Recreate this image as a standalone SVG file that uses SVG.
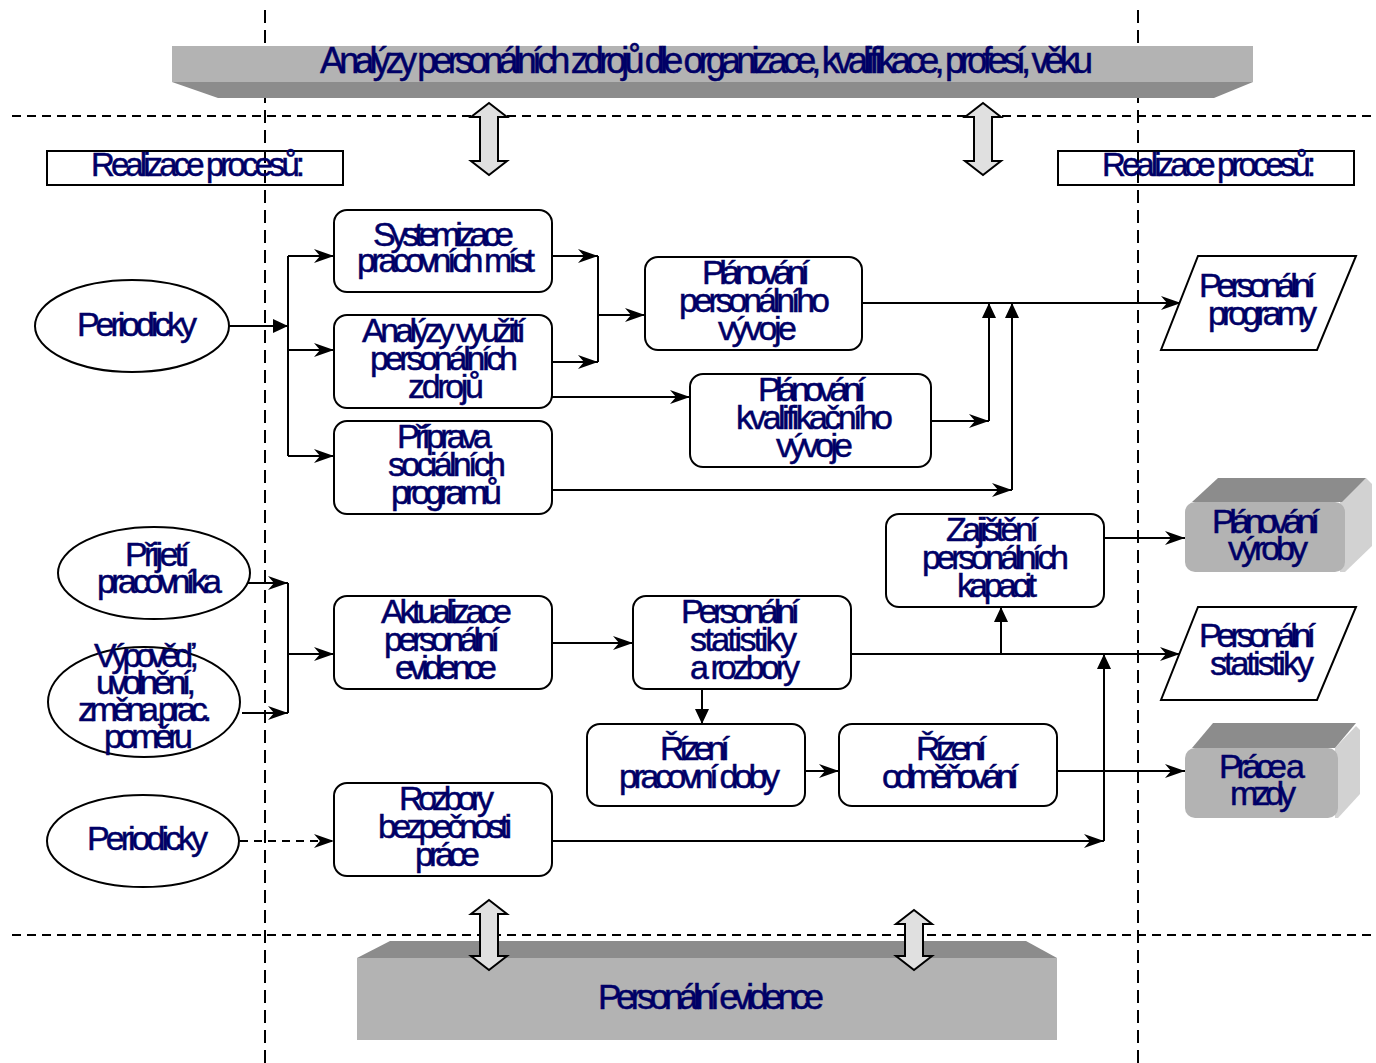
<svg xmlns="http://www.w3.org/2000/svg" width="1376" height="1063" viewBox="0 0 1376 1063">
<style>
.t{font-family:"Liberation Sans",Arial,sans-serif;font-size:34px;fill:#000066;stroke:#000066;stroke-width:0.5px;}
.box{fill:#fff;stroke:#000;stroke-width:2;}
.ell{fill:#fff;stroke:#000;stroke-width:2;}
.c{fill:none;stroke:#000;stroke-width:2;}
.s{marker-end:url(#stealth);}
.f{marker-end:url(#tri);}
.dd{fill:#e0e0e0;stroke:#000;stroke-width:2;stroke-linejoin:miter;}
.grid{stroke:#000;stroke-width:2;fill:none;}
</style>
<defs>
<marker id="stealth" markerUnits="userSpaceOnUse" markerWidth="20" markerHeight="14" refX="20" refY="7" orient="auto" overflow="visible">
<path d="M0,0 L20,7 L0,14 L6,7 Z" fill="#000"/>
</marker>
<marker id="tri" markerUnits="userSpaceOnUse" markerWidth="15" markerHeight="14" refX="15" refY="7" orient="auto" overflow="visible">
<path d="M0,0 L15,7 L0,14 Z" fill="#000"/>
</marker>
</defs>
<rect width="1376" height="1063" fill="#fff"/>
<g id="guides">
<line class="grid" x1="265" y1="10" x2="265" y2="1063" stroke-dasharray="13 7"/>
<line class="grid" x1="1138" y1="10" x2="1138" y2="1063" stroke-dasharray="13 7"/>
<line class="grid" x1="12" y1="116" x2="1376" y2="116" stroke-dasharray="9 6"/>
<line class="grid" x1="12" y1="935" x2="1376" y2="935" stroke-dasharray="9 6"/>
</g>
<g id="banner-top">
<polygon points="172,82 1253,82 1214,98 218,98" fill="#8c8c8c"/>
<rect x="172" y="46" width="1081" height="36" fill="#b3b3b3"/>
<text class="t" style="font-size:36px" x="320" y="73" textLength="773" lengthAdjust="spacing">Analýzy personálních zdrojů dle organizace, kvalifikace, profesí, věku</text>
</g>
<g id="banner-bottom">
<polygon points="390,941 1026,941 1057,958 357,958" fill="#8c8c8c"/>
<rect x="357" y="958" width="700" height="82" fill="#b3b3b3"/>
<text class="t" style="font-size:35px" x="598" y="1009" textLength="226" lengthAdjust="spacing">Personální evidence</text>
</g>
<g id="realizace-left">
<rect x="47" y="151" width="296" height="34" fill="none" stroke="#000" stroke-width="2"/>
<text class="t" style="font-size:33px" x="91" y="176" textLength="214" lengthAdjust="spacing">Realizace procesů:</text>
</g>
<g id="realizace-right">
<rect x="1058" y="151" width="296" height="34" fill="none" stroke="#000" stroke-width="2"/>
<text class="t" style="font-size:33px" x="1102" y="176" textLength="214" lengthAdjust="spacing">Realizace procesů:</text>
</g>
<g id="exchange-arrows">
<polygon class="dd" points="489,103 507,117 498,117 498,161 507,161 489,175 471,161 480,161 480,117 471,117"/>
<polygon class="dd" points="983,103 1001,117 992,117 992,161 1001,161 983,175 965,161 974,161 974,117 965,117"/>
<polygon class="dd" points="489,900 507,914 498,914 498,956 507,956 489,970 471,956 480,956 480,914 471,914"/>
<polygon class="dd" points="914,910 932,924 923,924 923,956 932,956 914,970 896,956 905,956 905,924 896,924"/>
</g>
<g id="connectors">
<path class="c f" d="M229,326 H288"/>
<path class="c" d="M288,256 V456"/>
<path class="c s" d="M288,256 H334"/>
<path class="c s" d="M288,350 H334"/>
<path class="c s" d="M288,456 H334"/>
<path class="c s" d="M552,256 H598"/>
<path class="c s" d="M552,362 H598"/>
<path class="c" d="M598,256 V362"/>
<path class="c s" d="M598,315 H645"/>
<path class="c s" d="M552,397 H690"/>
<path class="c s" d="M552,490 H1012"/>
<path class="c f" d="M1012,490 V303"/>
<path class="c s" d="M931,421 H989"/>
<path class="c f" d="M989,421 V303"/>
<path class="c s" d="M862,303 H1181"/>
<path class="c s" d="M1104,538 H1185"/>
<path class="c s" d="M232,583 H288"/>
<path class="c s" d="M242,713 H288"/>
<path class="c" d="M288,583 V713"/>
<path class="c s" d="M288,654 H334"/>
<path class="c s" d="M552,643 H633"/>
<path class="c s" d="M851,654 H1180"/>
<path class="c f" d="M1001,654 V607"/>
<path class="c f" d="M702,689 V724"/>
<path class="c s" d="M805,771 H839"/>
<path class="c s" d="M1057,771 H1185"/>
<path class="c s" d="M240,841 H334" stroke-dasharray="8 6"/>
<path class="c s" d="M552,841 H1104"/>
<path class="c f" d="M1104,841 V654"/>
</g>
<g id="periodicky-1">
<ellipse class="ell" cx="132" cy="326" rx="97" ry="46"/>
<text class="t" x="77" y="336" textLength="120" lengthAdjust="spacing">Periodicky</text>
</g>
<g id="systemizace">
<rect class="box" x="334" y="210" width="218" height="82" rx="13"/>
<text class="t" x="373" y="246" textLength="141" lengthAdjust="spacing">Systemizace</text>
<text class="t" x="357" y="272" textLength="178" lengthAdjust="spacing">pracovních míst</text>
</g>
<g id="analyzy-vyuziti">
<rect class="box" x="334" y="315" width="218" height="93" rx="13"/>
<text class="t" x="362" y="342" textLength="164" lengthAdjust="spacing">Analýzy využití</text>
<text class="t" x="370" y="370" textLength="148" lengthAdjust="spacing">personálních</text>
<text class="t" x="408" y="398" textLength="76" lengthAdjust="spacing">zdrojů</text>
</g>
<g id="priprava">
<rect class="box" x="334" y="421" width="218" height="93" rx="13"/>
<text class="t" x="397" y="448" textLength="95" lengthAdjust="spacing">Příprava</text>
<text class="t" x="388" y="476" textLength="118" lengthAdjust="spacing">sociálních</text>
<text class="t" x="391" y="504" textLength="111" lengthAdjust="spacing">programů</text>
</g>
<g id="planovani-personalniho">
<rect class="box" x="645" y="257" width="217" height="93" rx="13"/>
<text class="t" x="702" y="284" textLength="108" lengthAdjust="spacing">Plánování</text>
<text class="t" x="679" y="312" textLength="151" lengthAdjust="spacing">personálního</text>
<text class="t" x="718" y="340" textLength="79" lengthAdjust="spacing">vývoje</text>
</g>
<g id="planovani-kvalifikacniho">
<rect class="box" x="690" y="374" width="241" height="93" rx="13"/>
<text class="t" x="758" y="401" textLength="108" lengthAdjust="spacing">Plánování</text>
<text class="t" x="736" y="429" textLength="157" lengthAdjust="spacing">kvalifikačního</text>
<text class="t" x="776" y="457" textLength="77" lengthAdjust="spacing">vývoje</text>
</g>
<g id="personalni-programy">
<polygon class="box" points="1198,256 1356,256 1317,350 1161,350"/>
<text class="t" x="1199" y="297" textLength="117" lengthAdjust="spacing">Personální</text>
<text class="t" x="1208" y="325" textLength="109" lengthAdjust="spacing">programy</text>
</g>
<g id="planovani-vyroby">
<polygon points="1340,502 1366,478 1372,484 1372,546 1345,572 1340,572" fill="#d2d2d2"/>
<polygon points="1192,502 1218,478 1366,478 1342,502" fill="#8c8c8c"/>
<rect x="1185" y="502" width="160" height="70" rx="10" fill="#b3b3b3"/>
<text class="t" x="1212" y="533" textLength="108" lengthAdjust="spacing">Plánování</text>
<text class="t" x="1228" y="560" textLength="80" lengthAdjust="spacing">výroby</text>
</g>
<g id="zajisteni">
<rect class="box" x="886" y="514" width="218" height="93" rx="13"/>
<text class="t" x="946" y="541" textLength="93" lengthAdjust="spacing">Zajištění</text>
<text class="t" x="922" y="569" textLength="147" lengthAdjust="spacing">personálních</text>
<text class="t" x="957" y="597" textLength="80" lengthAdjust="spacing">kapacit</text>
</g>
<g id="prijeti">
<ellipse class="ell" cx="154" cy="573" rx="96" ry="46"/>
<text class="t" x="125" y="566" textLength="65" lengthAdjust="spacing">Přijetí</text>
<text class="t" x="97" y="593" textLength="125" lengthAdjust="spacing">pracovníka</text>
</g>
<g id="vypoved">
<ellipse class="ell" cx="144" cy="702" rx="96" ry="55"/>
<text class="t" x="94" y="667" textLength="105" lengthAdjust="spacing">Výpověď,</text>
<text class="t" x="96" y="694" textLength="100" lengthAdjust="spacing">uvolnění,</text>
<text class="t" x="78" y="721" textLength="134" lengthAdjust="spacing">změna prac.</text>
<text class="t" x="104" y="748" textLength="89" lengthAdjust="spacing">poměru</text>
</g>
<g id="aktualizace">
<rect class="box" x="334" y="596" width="218" height="93" rx="13"/>
<text class="t" x="381" y="623" textLength="131" lengthAdjust="spacing">Aktualizace</text>
<text class="t" x="384" y="651" textLength="116" lengthAdjust="spacing">personální</text>
<text class="t" x="395" y="679" textLength="102" lengthAdjust="spacing">evidence</text>
</g>
<g id="personalni-statistiky-rozbory">
<rect class="box" x="633" y="596" width="218" height="93" rx="13"/>
<text class="t" x="681" y="623" textLength="119" lengthAdjust="spacing">Personální</text>
<text class="t" x="690" y="651" textLength="107" lengthAdjust="spacing">statistiky</text>
<text class="t" x="690" y="679" textLength="110" lengthAdjust="spacing">a rozbory</text>
</g>
<g id="personalni-statistiky-out">
<polygon class="box" points="1198,607 1356,607 1317,700 1161,700"/>
<text class="t" x="1199" y="647" textLength="117" lengthAdjust="spacing">Personální</text>
<text class="t" x="1210" y="675" textLength="104" lengthAdjust="spacing">statistiky</text>
</g>
<g id="rizeni-prac-doby">
<rect class="box" x="587" y="724" width="218" height="82" rx="13"/>
<text class="t" x="660" y="760" textLength="70" lengthAdjust="spacing">Řízení</text>
<text class="t" x="619" y="788" textLength="161" lengthAdjust="spacing">pracovní doby</text>
</g>
<g id="rizeni-odmenovani">
<rect class="box" x="839" y="724" width="218" height="82" rx="13"/>
<text class="t" x="916" y="760" textLength="71" lengthAdjust="spacing">Řízení</text>
<text class="t" x="882" y="788" textLength="137" lengthAdjust="spacing">odměňování</text>
</g>
<g id="prace-a-mzdy">
<polygon points="1335,748 1356,726 1360,730 1360,794 1338,818 1335,818" fill="#d2d2d2"/>
<polygon points="1192,748 1213,723 1356,723 1335,748" fill="#8c8c8c"/>
<rect x="1185" y="748" width="153" height="70" rx="10" fill="#b3b3b3"/>
<text class="t" x="1219" y="778" textLength="86" lengthAdjust="spacing">Práce a</text>
<text class="t" x="1230" y="805" textLength="66" lengthAdjust="spacing">mzdy</text>
</g>
<g id="periodicky-2">
<ellipse class="ell" cx="143" cy="841" rx="96" ry="46"/>
<text class="t" x="87" y="850" textLength="121" lengthAdjust="spacing">Periodicky</text>
</g>
<g id="rozbory">
<rect class="box" x="334" y="783" width="218" height="93" rx="13"/>
<text class="t" x="399" y="810" textLength="95" lengthAdjust="spacing">Rozbory</text>
<text class="t" x="378" y="838" textLength="134" lengthAdjust="spacing">bezpečnosti</text>
<text class="t" x="415" y="866" textLength="65" lengthAdjust="spacing">práce</text>
</g>
</svg>
